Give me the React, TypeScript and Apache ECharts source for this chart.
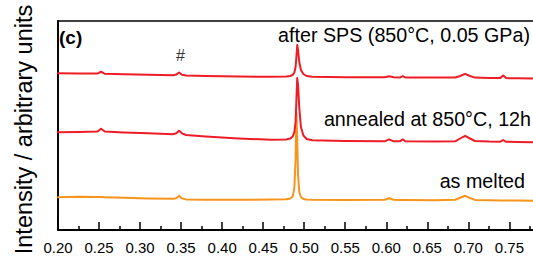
import React, { useEffect, useRef } from "react";
import * as echarts from "echarts";

// scattering vector q (shared sampling of the three patterns)
const qValues = [
  0.2, 0.225, 0.248, 0.2525, 0.257, 0.28, 0.31, 0.34, 0.344, 0.3475, 0.351, 0.356, 0.38, 0.42, 0.46,
  0.478, 0.483, 0.486, 0.488, 0.4895, 0.4905, 0.4915, 0.4925, 0.494, 0.496, 0.499, 0.503, 0.51, 0.55,
  0.598, 0.6035, 0.609, 0.617, 0.62, 0.623, 0.66, 0.684, 0.69, 0.696, 0.702, 0.708, 0.725, 0.739,
  0.7425, 0.746, 0.76, 0.78,
];

// after SPS (850°C, 0.05 GPa) — offset intensity
const afterSPS = [
  156.7, 156.5, 156.4, 158.3, 156.2, 155.7, 155.3, 154.8, 155.4, 157.5, 155.2, 154.4, 154.0, 153.4, 153.2,
  153.4, 154.0, 155.2, 157.5, 163, 173, 185, 180, 168, 160, 156, 154, 153.2, 152.8,
  152.7, 153.7, 152.7, 152.6, 153.8, 152.6, 152.5, 152.5, 154, 156.2, 154, 152.4, 152, 152,
  154.5, 151.9, 151.7, 151.5,
];

// annealed at 850°C, 12h — offset intensity
const annealed = [
  97.7, 98, 98.4, 101.2, 98.5, 97.5, 96.7, 95.8, 96.7, 99.2, 96.7, 95, 93.5, 91.5, 90.2,
  90.5, 91.5, 93.5, 98, 108, 130, 152, 145, 122, 103, 94.5, 91, 89.7, 89,
  88.7, 90.7, 88.7, 88.7, 90.8, 88.7, 88.5, 88.7, 91.5, 94.2, 91.5, 89, 88.4, 88.3,
  90, 88.2, 88, 87.8,
];

// as melted — offset intensity
const asMelted = [
  32.7, 33.2, 33, 32.9, 32.8, 32.2, 31.6, 31.2, 31.8, 34.2, 31.6, 30.6, 30.3, 30.2, 30.4,
  30.8, 31.5, 33.5, 42, 70, 117, 90, 55, 38, 33, 31, 30.4, 30.2, 30,
  30.2, 31.8, 30.2, 30, 30, 30, 29.8, 30.2, 32.2, 34.2, 32, 30.1, 29.7, 29.6,
  29.6, 29.5, 29.4, 29.3,
];

const seriesNames = ["as melted", "annealed at 850°C, 12h", "after SPS (850°C, 0.05 GPa)"];
const panelLabel = "(c)";
const impurityMark = "#";
const yAxisTitle = "Intensity / arbitrary units";

const pairs = (ys: number[]) => qValues.map((q, i) => [q, ys[i]]);

export default function App() {
  const ref = useRef<HTMLDivElement>(null);
  useEffect(() => {
    if (!ref.current) return;
    const chart = echarts.init(ref.current, undefined, { renderer: "svg" });
    const font = "Liberation Sans, Arial, sans-serif";
    const line = (color: string) => ({ color, width: 2, join: "round", cap: "round" });
    chart.setOption({
      animation: false,
      backgroundColor: "#ffffff",
      textStyle: { fontFamily: font },
      grid: {
        left: 58,
        top: 21,
        right: -1,
        bottom: 28,
        containLabel: false,
        outerBoundsMode: "none",
        show: true,
        borderColor: "#000",
        borderWidth: 1.5,
        backgroundColor: "transparent",
      },
      xAxis: {
        type: "value",
        min: 0.2,
        max: 0.78,
        interval: 0.05,
        axisLine: { show: true, onZero: false, lineStyle: { color: "#000", width: 1.8 } },
        axisTick: { show: true, inside: true, length: 8, lineStyle: { color: "#000", width: 1.5 } },
        minorTick: { show: true, splitNumber: 2, length: 4, lineStyle: { color: "#000", width: 1.5 } },
        splitLine: { show: false },
        axisLabel: {
          color: "#000",
          fontSize: 15,
          fontFamily: font,
          margin: 10,
          showMaxLabel: false,
          formatter: (v: number) => v.toFixed(2),
        },
      },
      yAxis: {
        type: "value",
        min: 0,
        max: 209,
        name: yAxisTitle,
        nameLocation: "middle",
        nameGap: 22,
        nameTextStyle: { color: "#000", fontSize: 23.5, fontFamily: font, padding: [0, 8, 0, 0] },
        axisLine: { show: true, onZero: false, lineStyle: { color: "#000", width: 1.8 } },
        axisTick: { show: false },
        axisLabel: { show: false },
        splitLine: { show: false },
      },
      series: [
        {
          name: seriesNames[0],
          type: "line",
          data: pairs(asMelted),
          showSymbol: false,
          lineStyle: line("#f7941d"),
          itemStyle: { color: "#f7941d" },
        },
        {
          name: seriesNames[1],
          type: "line",
          data: pairs(annealed),
          showSymbol: false,
          lineStyle: line("#ee1c25"),
          itemStyle: { color: "#ee1c25" },
        },
        {
          name: seriesNames[2],
          type: "line",
          data: pairs(afterSPS),
          showSymbol: false,
          lineStyle: line("#ee1c25"),
          itemStyle: { color: "#ee1c25" },
        },
      ],
      graphic: [
        {
          type: "text",
          x: 59,
          y: 37,
          style: { text: panelLabel, font: `bold 19px ${font}`, fill: "#000", verticalAlign: "middle" },
        },
        {
          type: "text",
          x: 180.5,
          y: 55,
          style: { text: impurityMark, font: `16px ${font}`, fill: "#333", align: "center", verticalAlign: "middle" },
        },
        {
          type: "text",
          x: 530,
          y: 35,
          style: { text: seriesNames[2], font: `19.7px ${font}`, fill: "#000", align: "right", verticalAlign: "middle" },
        },
        {
          type: "text",
          x: 531,
          y: 118.5,
          style: { text: seriesNames[1], font: `19.7px ${font}`, fill: "#000", align: "right", verticalAlign: "middle" },
        },
        {
          type: "text",
          x: 525,
          y: 181,
          style: { text: seriesNames[0], font: `19.7px ${font}`, fill: "#000", align: "right", verticalAlign: "middle" },
        },
      ],
    });
    return () => chart.dispose();
  }, []);
  return (
    <div
      ref={ref}
      style={{ position: "fixed", left: 0, top: 0, width: 533, height: 258, background: "#fff" }}
    />
  );
}
